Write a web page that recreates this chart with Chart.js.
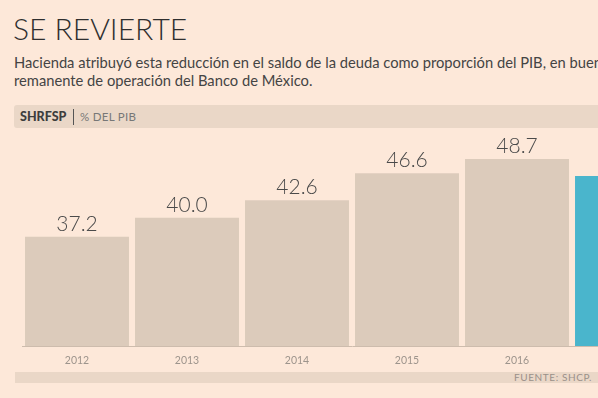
<!DOCTYPE html>
<html lang="es">
<head>
<meta charset="utf-8">
<script src="https://cdn.jsdelivr.net/npm/chart.js@4/dist/chart.umd.min.js"></script>
<style>
    html, body { margin: 0; padding: 0; }
    body {
        width: 598px; height: 398px; overflow: hidden; position: relative;
        background: #fde8d9; font-family: Lato, "Open Sans", sans-serif; color: #333;
    }
    #titulo {
        position: absolute; left: 13px; top: 10px; margin: 0;
        font-size: 30px; font-weight: 300; color: #2f2f2f; white-space: nowrap;
    }
    #bajada {
        position: absolute; left: 14px; top: 53px; margin: 0;
        font-size: 14.72px; line-height: 18px; color: #444; white-space: nowrap;
    }
    #banda {
        position: absolute; left: 14px; top: 105px; width: 600px; height: 23px;
        background: #ead7c7; border-radius: 3px 0 0 3px;
        line-height: 23px; white-space: nowrap;
    }
    #banda b { position: absolute; left: 6px; color: #3d3d3d; font-weight: 900; font-size: 12.5px; }
    #banda .sep { position: absolute; left: 59px; top: 4px; width: 1px; height: 16px; background: #555; }
    #banda .unidad { position: absolute; left: 66px; color: #777; font-size: 11.5px; letter-spacing: 0.3px; }
    #pie {
        position: absolute; left: 15px; top: 372px; width: 600px; height: 11px;
        background: #ead7c7;
    }
    #fuente {
        position: absolute; right: 6px; top: 370px; font-size: 10px; line-height: 14px;
        color: #9a9089; letter-spacing: 0.6px;
    }
    #grafica { position: absolute; left: 0; top: 130px; width: 700px; height: 240px; }
</style>
</head>
<body>
<h1 id="titulo">SE REVIERTE</h1>
<p id="bajada">Hacienda atribuyó esta reducción en el saldo de la deuda como proporción del PIB, en buena medida, por el<br>remanente de operación del Banco de México.</p>
<div id="banda"><b>SHRFSP</b><span class="sep"></span><span class="unidad">% DEL PIB</span></div>
<div id="pie"></div>
<div id="fuente">FUENTE: SHCP.</div>
<div id="grafica"><canvas id="lienzo"></canvas></div>

<script>
// Datos
const anios = ["2012", "2013", "2014", "2015", "2016", "2017"];
const saldos = [37.2, 40.0, 42.6, 46.6, 48.7, 46.2];
const coloresBarra = ["#dccbbb", "#dccbbb", "#dccbbb", "#dccbbb", "#dccbbb", "#4ab5cc"];

// Etiqueta del valor encima de cada barra
const etiquetas = {
    id: "etiquetas",
    afterDatasetsDraw(chart) {
        const ctx = chart.ctx;
        const meta = chart.getDatasetMeta(0);
        ctx.save();
        ctx.font = "300 21px Lato";
        ctx.fillStyle = "#4a4a4a";
        ctx.textAlign = "center";
        ctx.textBaseline = "alphabetic";
        meta.data.forEach((bar, i) => {
            ctx.fillText(saldos[i].toFixed(1), bar.x, bar.y - 6);
        });
        ctx.restore();
    }
};

new Chart(document.getElementById("lienzo"), {
    type: "bar",
    data: {
        labels: anios,
        datasets: [{
            data: saldos,
            backgroundColor: coloresBarra,
            borderWidth: 0,
            categoryPercentage: 1,
            barPercentage: 0.945
        }]
    },
    options: {
        responsive: true,
        maintainAspectRatio: false,
        animation: false,
        layout: { padding: { left: 22, right: 18, top: 0, bottom: 0 } },
        plugins: { legend: { display: false }, tooltip: { enabled: false } },
        scales: {
            x: {
                grid: { display: false, drawTicks: false },
                border: { display: true, color: "#cdbcad", width: 1 },
                ticks: { color: "#9d948c", font: { family: "Lato", size: 10.5 }, padding: 8 },
                afterFit: s => { s.height = 24; }
            },
            y: {
                display: false,
                min: 21,
                max: 53
            }
        }
    },
    plugins: [etiquetas]
});
</script>
</body>
</html>
